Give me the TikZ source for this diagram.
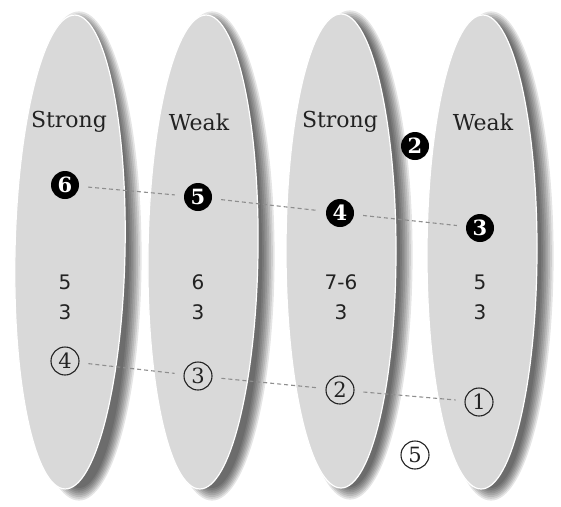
\documentclass[tikz,border=0pt]{standalone}
\usepackage{fontspec}
\setmainfont{DejaVu Serif}
\setsansfont{DejaVu Sans}
\usetikzlibrary{shapes.geometric, positioning, backgrounds}
\definecolor{lobeGray}{HTML}{D9D9D9}
\definecolor{inkDark}{HTML}{222222}
\definecolor{linkGray}{HTML}{8E8E8E}
\tikzset{
  lobe/.style={ellipse, fill=lobeGray, draw=white, line width=1.2pt,
               minimum width=110pt, minimum height=474pt, inner sep=0pt},
  tag/.style={text=inkDark, font=\fontsize{22}{24}\selectfont},
  fig/.style={text=inkDark, align=center, font=\sffamily\fontsize{20}{30}\selectfont},
  blackno/.style={circle, fill=black, text=white, minimum size=28pt, inner sep=0pt,
                  font=\bfseries\fontsize{21}{22}\selectfont},
  openno/.style={circle, draw=inkDark, line width=1.1pt, text=inkDark, minimum size=28pt,
                 inner sep=0pt, font=\fontsize{21}{22}\selectfont},
  link/.style={linkGray, line width=1.1pt, dash pattern=on 4pt off 3pt,
               shorten <=9pt, shorten >=9pt},
}

\begin{document}
\begin{tikzpicture}[x=1pt, y=-1pt]
    \useasboundingbox (0,0) rectangle (561,506);
    % the four beats
    \node[lobe, rotate=-1.2] (l1) at (70,252) {};
    \node[lobe, rotate=-0.8] (l2) at (203,252) {};
    \node[lobe] (l3) at (341,251) {};
    \node[lobe, rotate=-0.2] (l4) at (482,252) {};
    \begin{scope}[on background layer]
      \foreach \n in {l1,l2,l3,l4}
        \foreach \k in {0,...,7}
          \fill[black, opacity=0.1] ([shift={(9,4)}]\n.center)
               ellipse ({50+\k*1.8} and {232+\k*1.8});
    \end{scope}
    \node[tag] (t1) at (69,122) {Strong};
    \node[tag] (t2) at (199,122) {Weak};
    \node[tag] (t3) at (340,122) {Strong};
    \node[tag] (t4) at (483,122) {Weak};
    % upper voice
    \node[blackno] (b6) at (65,185) {6};
    \node[blackno] (b5) at (198,197) {5};
    \node[blackno] (b4) at (340,213) {4};
    \node[blackno] (b3) at (480,228) {3};
    \node[blackno] (b2) at (415,146) {2};
    \draw[link] (b6) -- (b5); \draw[link] (b5) -- (b4); \draw[link] (b4) -- (b3);
    % figures
    \node[fig] (f1) at (65,297) {5\\3};
    \node[fig] (f2) at (198,297) {6\\3};
    \node[fig] (f3) at (341,297) {7-6\\3};
    \node[fig] (f4) at (480,297) {5\\3};
    % lower voice
    \node[openno] (o4) at (65,361) {4};
    \node[openno] (o3) at (198,376) {3};
    \node[openno] (o2) at (340,390) {2};
    \node[openno] (o1) at (479,402) {1};
    \node[openno] (o5) at (415,455) {5};
    \draw[link] (o4) -- (o3); \draw[link] (o3) -- (o2); \draw[link] (o2) -- (o1);
  \end{tikzpicture}
\end{document}
